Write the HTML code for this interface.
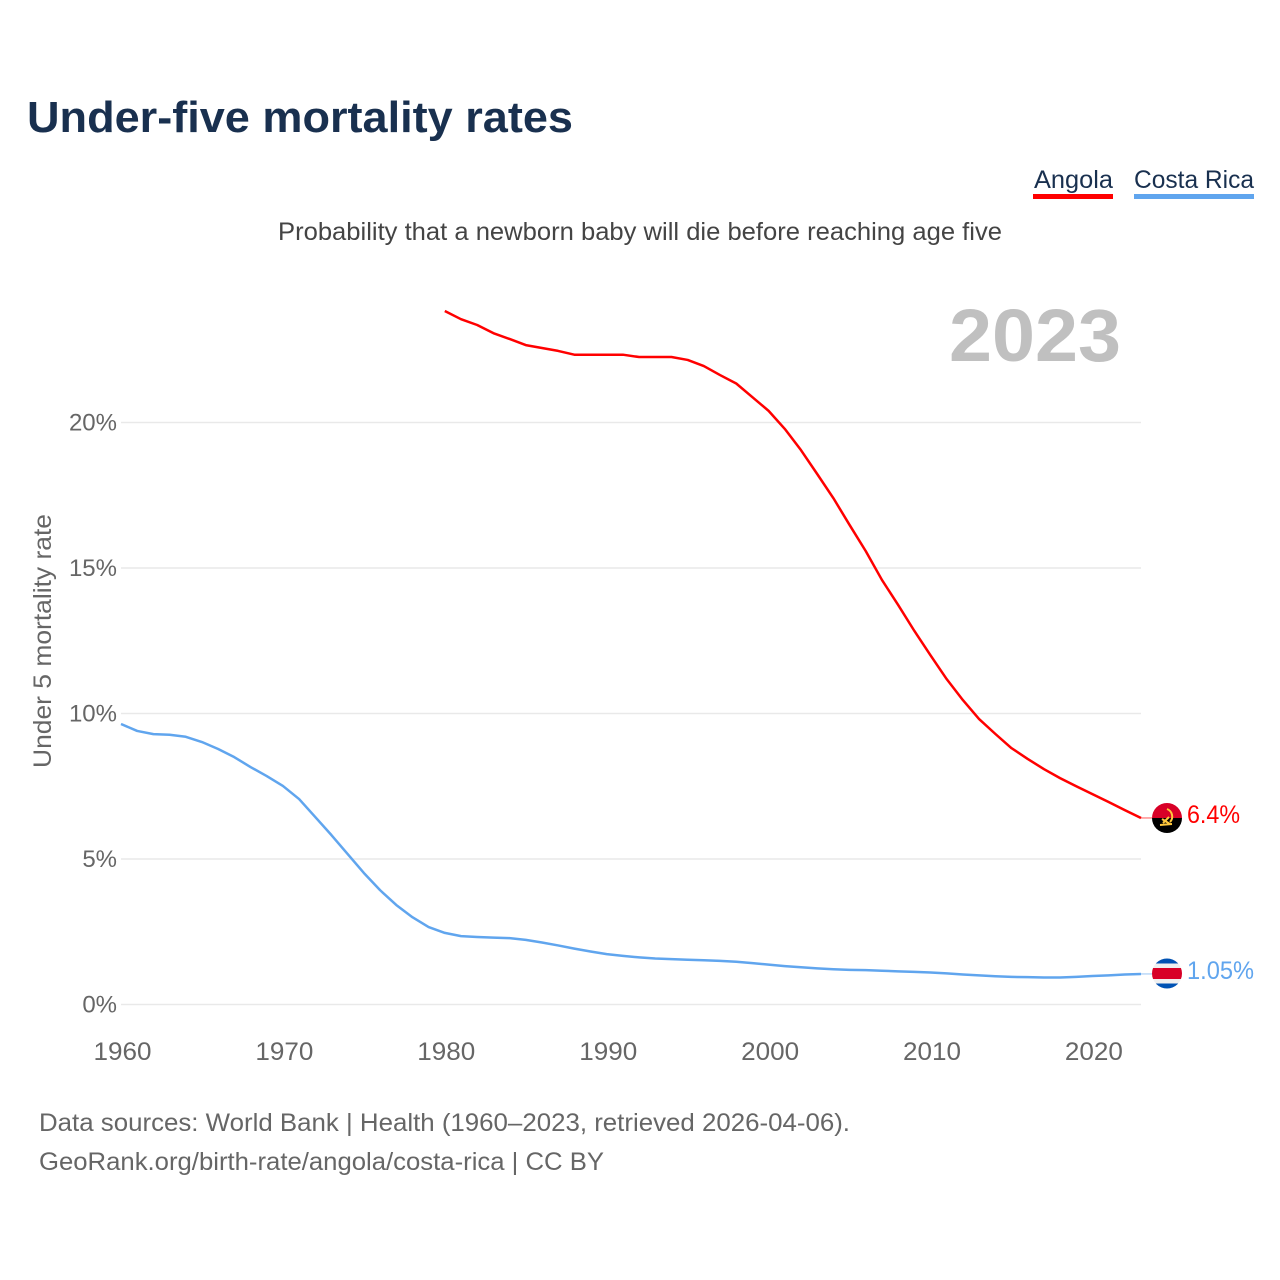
<!DOCTYPE html>
<html lang="en">
<head>
<meta charset="utf-8">
<title>Under-five mortality rates</title>
<style>
html,body{margin:0;padding:0;background:#fff;}
svg{display:block;}
text{font-family:"Liberation Sans",sans-serif;}
</style>
</head>
<body>
<svg id="chart" width="1280" height="1280" viewBox="0 0 1280 1280" xmlns="http://www.w3.org/2000/svg">
  <rect width="1280" height="1280" fill="#ffffff"/>
  <text x="27" y="132" font-size="44" font-weight="700" fill="#19304f" textLength="546" lengthAdjust="spacingAndGlyphs">Under-five mortality rates</text>
  <text x="1034" y="188" font-size="25" fill="#19304f" textLength="79" lengthAdjust="spacingAndGlyphs">Angola</text>
  <rect x="1033" y="194" width="80" height="5" fill="#ff0000"/>
  <text x="1134" y="188" font-size="25" fill="#19304f" textLength="120" lengthAdjust="spacingAndGlyphs">Costa Rica</text>
  <rect x="1134" y="194" width="120" height="5" fill="#60a5ee"/>
  <text x="278" y="240" font-size="25" fill="#444444" textLength="724" lengthAdjust="spacingAndGlyphs">Probability that a newborn baby will die before reaching age five</text>
  <text x="949" y="361" font-size="74" font-weight="700" fill="#c0c0c0" textLength="172" lengthAdjust="spacingAndGlyphs">2023</text>
  <text transform="translate(51,768) rotate(-90)" font-size="25" fill="#666666" textLength="254" lengthAdjust="spacingAndGlyphs">Under 5 mortality rate</text>
  <g id="grid"></g>
  <g id="series"></g>

  <defs>
    <clipPath id="flag-clip-ao"><circle cx="1167" cy="818" r="15"/></clipPath>
    <clipPath id="flag-clip-cr"><circle cx="1167" cy="973.5" r="15"/></clipPath>
  </defs>
  <g id="flag-ao" clip-path="url(#flag-clip-ao)">
    <rect x="1152" y="803" width="30" height="15" fill="#d80027"/>
    <rect x="1152" y="818" width="30" height="15" fill="#000000"/>
    <path d="M1167 809 a8 8 0 0 1 3 13" fill="none" stroke="#ffc83d" stroke-width="2"/>
    <path d="M1160 825 l12 -1 M1162 819 l8 5 M1163 823 l6 -6" fill="none" stroke="#ffc83d" stroke-width="2"/>
  </g>
  <g id="flag-cr" clip-path="url(#flag-clip-cr)">
    <rect x="1152" y="958.5" width="30" height="30" fill="#f0f0f0"/>
    <rect x="1152" y="958.5" width="30" height="5" fill="#0052b4"/>
    <rect x="1152" y="983.5" width="30" height="5" fill="#0052b4"/>
    <rect x="1152" y="968" width="30" height="11" fill="#d80027"/>
  </g>
  <text x="1187" y="823" font-size="25" fill="#ff0000" textLength="53" lengthAdjust="spacingAndGlyphs">6.4%</text>
  <text x="1187" y="979" font-size="25" fill="#60a5ee" textLength="67" lengthAdjust="spacingAndGlyphs">1.05%</text>

  <text x="39" y="1131" font-size="25" fill="#666666" textLength="811" lengthAdjust="spacingAndGlyphs">Data sources: World Bank | Health (1960–2023, retrieved 2026-04-06).</text>
  <text x="39" y="1170" font-size="25" fill="#666666" textLength="565" lengthAdjust="spacingAndGlyphs">GeoRank.org/birth-rate/angola/costa-rica | CC BY</text>
</svg>
<script>
const yTicks = [0, 5, 10, 15, 20];
const xTicks = [1960, 1970, 1980, 1990, 2000, 2010, 2020];
const angolaStart = 1980;
const angolaValues = [23.83,23.55,23.35,23.07,22.87,22.66,22.56,22.46,22.33,22.33,22.33,22.33,22.25,22.25,22.25,22.15,21.94,21.63,21.34,20.87,20.4,19.78,19.05,18.23,17.4,16.48,15.58,14.59,13.73,12.84,12.0,11.18,10.46,9.81,9.3,8.81,8.44,8.09,7.78,7.5,7.23,6.96,6.68,6.41];
const costaRicaStart = 1960;
const costaRicaValues = [9.64,9.4,9.29,9.27,9.2,9.02,8.78,8.5,8.16,7.85,7.51,7.06,6.44,5.82,5.17,4.52,3.93,3.42,3.0,2.66,2.46,2.35,2.32,2.3,2.28,2.22,2.13,2.03,1.92,1.82,1.73,1.67,1.62,1.58,1.56,1.54,1.52,1.5,1.47,1.42,1.37,1.32,1.28,1.24,1.21,1.19,1.18,1.16,1.14,1.12,1.1,1.07,1.03,1.0,0.97,0.95,0.94,0.93,0.93,0.95,0.98,1.0,1.03,1.05];

const NS = 'http://www.w3.org/2000/svg';
const xScale = function (year) { return 121 + (year - 1960) * (1141 - 121) / 63; };
const yScale = function (value) { return 1004.5 - value * 29.1; };

const grid = document.getElementById('grid');
yTicks.forEach(function (tick) {
  const line = document.createElementNS(NS, 'line');
  
  
  line.setAttribute('x1', 121);
  line.setAttribute('x2', 1141);
  line.setAttribute('y1', yScale(tick));
  line.setAttribute('y2', yScale(tick));
  line.setAttribute('stroke', '#e9e9e9');
  line.setAttribute('stroke-width', '1.5');
  grid.appendChild(line);

  const label = document.createElementNS(NS, 'text');
  
  
  label.setAttribute('x', 117);
  label.setAttribute('y', yScale(tick) + 8);
  label.setAttribute('text-anchor', 'end');
  label.setAttribute('font-size', '24');
  label.setAttribute('fill', '#666666');
  label.textContent = tick + '%';
  grid.appendChild(label);
});
xTicks.forEach(function (tick) {
  const label = document.createElementNS(NS, 'text');
  
  
  label.setAttribute('x', xScale(tick) + 1.5);
  label.setAttribute('y', 1060);
  label.setAttribute('text-anchor', 'middle');
  label.setAttribute('font-size', '25');
  label.setAttribute('textLength', '58');
  label.setAttribute('lengthAdjust', 'spacingAndGlyphs');
  label.setAttribute('fill', '#666666');
  label.textContent = tick;
  grid.appendChild(label);
});

const series = document.getElementById('series');
function drawSeries(name, start, values, color) {
  const points = values.map(function (value, i) {
    return xScale(start + i).toFixed(2) + ',' + yScale(value).toFixed(2);
  });
  const path = document.createElementNS(NS, 'polyline');
  
  
  path.setAttribute('points', points.join(' '));
  path.setAttribute('fill', 'none');
  path.setAttribute('stroke', color);
  path.setAttribute('stroke-width', '2.5');
  path.setAttribute('stroke-linejoin', 'round');
  series.appendChild(path);

  const lastValue = values[values.length - 1];
  const connector = document.createElementNS(NS, 'line');
  
  
  connector.setAttribute('x1', xScale(2023));
  connector.setAttribute('x2', 1152);
  connector.setAttribute('y1', yScale(lastValue));
  connector.setAttribute('y2', yScale(lastValue));
  connector.setAttribute('stroke', color);
  connector.setAttribute('stroke-opacity', '0.55');
  connector.setAttribute('stroke-width', '1.2');
  series.appendChild(connector);
}
drawSeries('angola', angolaStart, angolaValues, '#ff0000');
drawSeries('costa-rica', costaRicaStart, costaRicaValues, '#60a5ee');
</script>
</body>
</html>
